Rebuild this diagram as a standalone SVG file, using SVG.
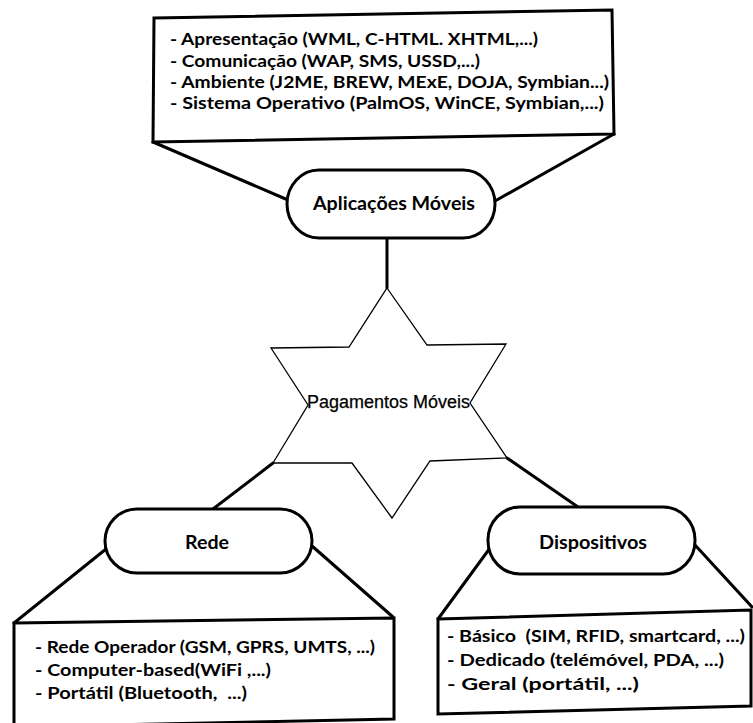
<svg xmlns="http://www.w3.org/2000/svg" width="753" height="723" viewBox="0 0 753 723">
  <style>
    .box { fill: #fff; stroke: #000; stroke-width: 3; stroke-linejoin: miter; }
    .pill { fill: #fff; stroke: #000; stroke-width: 3; }
    .link { fill: none; stroke: #000; stroke-width: 3; stroke-linecap: round; }
    .star { fill: #fff; stroke: #000; stroke-width: 1.3; stroke-linejoin: miter; }
    .item { font-family: Lato, "Open Sans", sans-serif; font-weight: 700; font-size: 17.5px; fill: #000; white-space: pre; }
    .label { font-family: Lato, "Open Sans", sans-serif; font-weight: 700; font-size: 18px; fill: #000; }
    .core { font-family: "Liberation Sans", Arial, sans-serif; font-size: 18px; fill: #000; stroke: #000; stroke-width: 0.25; }
  </style>

  <rect width="753" height="723" fill="#fff"/>

  <!-- connectors between the central star, the pills and the detail boxes -->
  <g id="connectors">
    <line class="link" x1="153" y1="142" x2="288" y2="200"/>
    <line class="link" x1="614" y1="134" x2="495" y2="201"/>
    <line class="link" x1="387" y1="238" x2="387" y2="288"/>
    <line class="link" x1="273" y1="463" x2="213" y2="509"/>
    <line class="link" x1="507" y1="458" x2="578" y2="507"/>
    <line class="link" x1="106" y1="549" x2="14" y2="623"/>
    <line class="link" x1="312" y1="546" x2="393" y2="617"/>
    <line class="link" x1="490" y1="548" x2="438" y2="619"/>
    <line class="link" x1="695" y1="545" x2="752" y2="607"/>
  </g>

  <!-- application layers box -->
  <g id="apps-detail">
    <polygon class="box" points="154,18 612,10 614,134 153,142"/>
    <text class="item" x="170" y="45" textLength="368" lengthAdjust="spacingAndGlyphs">- Apresentação (WML, C-HTML. XHTML,...)</text>
    <text class="item" x="170" y="67" textLength="310" lengthAdjust="spacingAndGlyphs">- Comunicação (WAP, SMS, USSD,...)</text>
    <text class="item" x="170" y="88" textLength="439" lengthAdjust="spacingAndGlyphs">- Ambiente (J2ME, BREW, MExE, DOJA, Symbian...)</text>
    <text class="item" x="170" y="109" textLength="434" lengthAdjust="spacingAndGlyphs">- Sistema Operativo (PalmOS, WinCE, Symbian,...)</text>
  </g>

  <g id="apps">
    <rect class="pill" x="287" y="170" width="208" height="68" rx="32" ry="34"/>
    <text class="label" x="313" y="210" textLength="162" lengthAdjust="spacingAndGlyphs">Aplicações Móveis</text>
  </g>

  <!-- central six-pointed star -->
  <g id="payments">
    <polygon class="star" points="387,288 427,345 506,344 470,403 507,458 430,461 392,518 352,463 273,463 308,405 271,348 349,347"/>
    <text class="core" x="307" y="408" textLength="163" lengthAdjust="spacingAndGlyphs">Pagamentos Móveis</text>
  </g>

  <g id="network">
    <rect class="pill" x="105" y="509" width="207" height="64" rx="32" ry="32"/>
    <text class="label" x="185" y="549" textLength="44" lengthAdjust="spacingAndGlyphs">Rede</text>
  </g>

  <g id="network-detail">
    <polygon class="box" points="14,623 394,618 394,719 14,727"/>
    <text class="item" x="35" y="653" textLength="340" lengthAdjust="spacingAndGlyphs">- Rede Operador (GSM, GPRS, UMTS, ...)</text>
    <text class="item" x="35" y="676" textLength="236" lengthAdjust="spacingAndGlyphs">- Computer-based(WiFi ,...)</text>
    <text class="item" x="35" y="699" textLength="212" lengthAdjust="spacingAndGlyphs">- Portátil (Bluetooth,  ...)</text>
  </g>

  <g id="devices">
    <rect class="pill" x="488" y="507" width="207" height="67" rx="32" ry="33"/>
    <text class="label" x="539" y="549" textLength="108" lengthAdjust="spacingAndGlyphs">Dispositivos</text>
  </g>

  <g id="devices-detail">
    <polygon class="box" points="438,619 751,610 751,706 438,714"/>
    <text class="item" x="447" y="642" textLength="298" lengthAdjust="spacingAndGlyphs">- Básico  (SIM, RFID, smartcard, ...)</text>
    <text class="item" x="447" y="666" textLength="277" lengthAdjust="spacingAndGlyphs">- Dedicado (telémóvel, PDA, ...)</text>
    <text class="item" x="447" y="690" textLength="192" lengthAdjust="spacingAndGlyphs">- Geral (portátil, ...)</text>
  </g>
</svg>
